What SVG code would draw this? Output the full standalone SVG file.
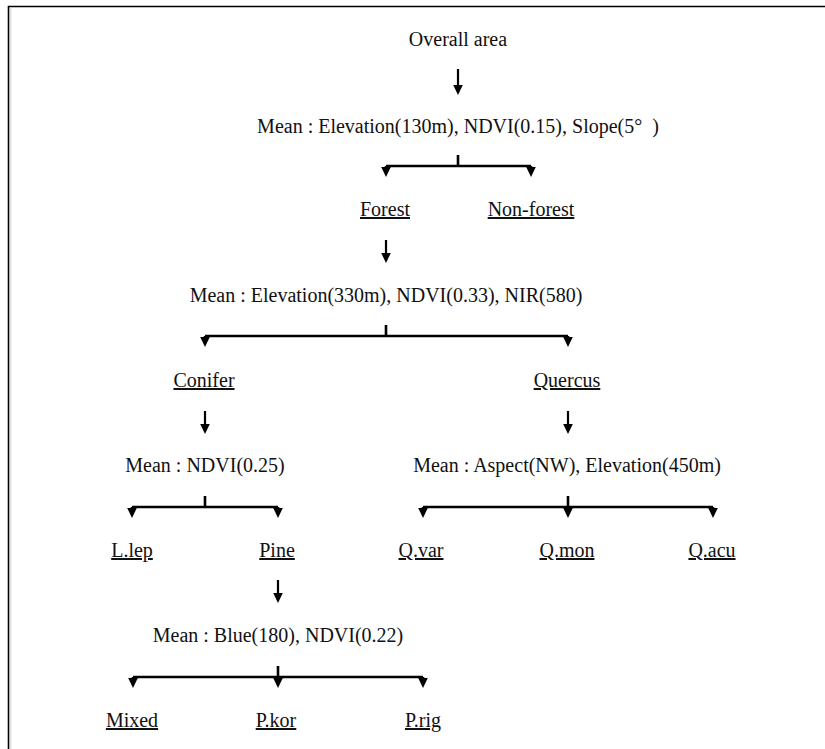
<svg xmlns="http://www.w3.org/2000/svg" xmlns:xlink="http://www.w3.org/1999/xlink" width="825" height="749" viewBox="0 0 825 749">
<style>
text{font-family:"Liberation Serif","Times New Roman",serif;font-size:20px;fill:#111;text-anchor:middle}
.u{text-decoration:underline}
.ln{stroke:#000;stroke-width:2.6;fill:none}
.sh{stroke:#000;stroke-width:2.2;fill:none}
</style>
<defs>
<path id="ah" d="M-4.8,-10 L4.8,-10 L0,0 Z" fill="#000"/>
</defs>
<rect width="825" height="749" fill="#fff"/>
<path d="M10.8,749 V8" stroke="#d0d0d0" stroke-width="1" fill="none"/>
<path d="M8.5,749 V6.5 H825" stroke="#000" stroke-width="1.6" fill="none"/>

<g id="connectors">
<line class="sh" x1="458" y1="69" x2="458" y2="86"/><use xlink:href="#ah" x="458" y="95"/>
<path class="ln" d="M458,155 V166 M386,166 H531 M386,166 V169 M531,166 V169"/>
<use xlink:href="#ah" x="386" y="177"/><use xlink:href="#ah" x="531" y="177"/>
<line class="sh" x1="386" y1="240" x2="386" y2="254"/><use xlink:href="#ah" x="386" y="263"/>
<path class="ln" d="M386,325 V336 M205,336 H568 M205,336 V339 M568,336 V339"/>
<use xlink:href="#ah" x="205" y="347"/><use xlink:href="#ah" x="568" y="347"/>
<line class="sh" x1="205" y1="411" x2="205" y2="425"/><use xlink:href="#ah" x="205" y="434"/>
<line class="sh" x1="568" y1="411" x2="568" y2="425"/><use xlink:href="#ah" x="568" y="434"/>
<path class="ln" d="M205,496 V507 M132,507 H278 M132,507 V510 M278,507 V510"/>
<use xlink:href="#ah" x="132" y="518"/><use xlink:href="#ah" x="278" y="518"/>
<path class="ln" d="M568,496 V510 M423,507 H713 M423,507 V510 M713,507 V510"/>
<use xlink:href="#ah" x="423" y="518"/><use xlink:href="#ah" x="568" y="518"/><use xlink:href="#ah" x="713" y="518"/>
<line class="sh" x1="278" y1="580" x2="278" y2="594"/><use xlink:href="#ah" x="278" y="603"/>
<path class="ln" d="M278,666 V680 M133,677 H423 M133,677 V680 M423,677 V680"/>
<use xlink:href="#ah" x="133" y="688"/><use xlink:href="#ah" x="278" y="688"/><use xlink:href="#ah" x="423" y="688"/>
</g>

<g id="overall"><text x="458" y="46">Overall area</text></g>
<g id="mean1"><text x="458" y="133">Mean : Elevation(130m), NDVI(0.15), Slope(5°&#160;&#160;)</text></g>
<g id="forest"><text class="u" x="385" y="216">Forest</text></g>
<g id="nonforest"><text class="u" x="531" y="216">Non-forest</text></g>
<g id="mean2"><text x="386" y="302">Mean : Elevation(330m), NDVI(0.33), NIR(580)</text></g>
<g id="conifer"><text class="u" x="204" y="387">Conifer</text></g>
<g id="quercus"><text class="u" x="567" y="387">Quercus</text></g>
<g id="mean3l"><text x="205" y="472">Mean : NDVI(0.25)</text></g>
<g id="mean3r"><text x="567" y="472">Mean : Aspect(NW), Elevation(450m)</text></g>
<g id="llep"><text class="u" x="132" y="557">L.lep</text></g>
<g id="pine"><text class="u" x="277" y="557">Pine</text></g>
<g id="qvar"><text class="u" x="421" y="557">Q.var</text></g>
<g id="qmon"><text class="u" x="567" y="557">Q.mon</text></g>
<g id="qacu"><text class="u" x="712" y="557">Q.acu</text></g>
<g id="mean4"><text x="278" y="642">Mean : Blue(180), NDVI(0.22)</text></g>
<g id="mixed"><text class="u" x="132" y="727">Mixed</text></g>
<g id="pkor"><text class="u" x="276" y="727">P.kor</text></g>
<g id="prig"><text class="u" x="423" y="727">P.rig</text></g>
</svg>
